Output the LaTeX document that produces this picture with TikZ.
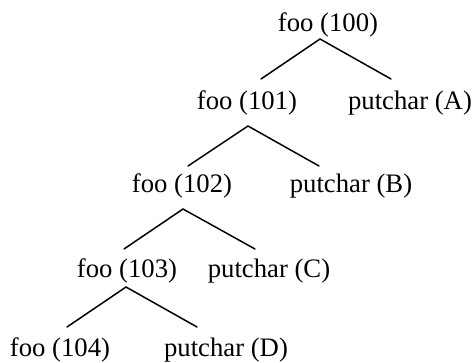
\documentclass[tikz,border=0pt]{standalone}
\usepackage{fontspec}
\setmainfont{Liberation Serif}
\begin{document}
\begin{tikzpicture}[x=1pt,y=-1pt,
  lbl/.style={anchor=base,inner sep=0pt,font=\fontsize{26.7}{32}\selectfont},
  edge/.style={line width=1.5pt,line cap=round}]
\useasboundingbox (0,0) rectangle (473,363);
% call labels
\node[lbl] (f100) at (328,32) {foo (100)};
\node[lbl] (f101) at (247,110) {foo (101)};
\node[lbl] (pA)   at (410,110) {putchar (A)};
\node[lbl] (f102) at (182,193) {foo (102)};
\node[lbl] (pB)   at (351,193) {putchar (B)};
\node[lbl] (f103) at (127,277) {foo (103)};
\node[lbl] (pC)   at (269,277) {putchar (C)};
\node[lbl] (f104) at (60,356)  {foo (104)};
\node[lbl] (pD)   at (226,356) {putchar (D)};
% branch points and ends
\coordinate (a0) at (320,39);  \coordinate (l0) at (261,79);  \coordinate (r0) at (391,79);
\coordinate (a1) at (248,126); \coordinate (l1) at (188,166); \coordinate (r1) at (319,166);
\coordinate (a2) at (183,209); \coordinate (l2) at (124,249); \coordinate (r2) at (255,249);
\coordinate (a3) at (126,287); \coordinate (l3) at (67,327);  \coordinate (r3) at (197,327);
\foreach \i in {0,1,2,3}{
  \draw[edge] (l\i) -- (a\i) -- (r\i);
}
\end{tikzpicture}
\end{document}
